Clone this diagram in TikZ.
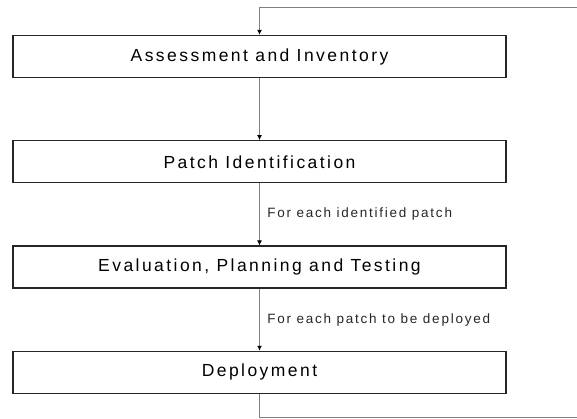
\documentclass[tikz,border=0pt]{standalone}
\usepackage{fontspec}
\setmainfont{Liberation Sans}
\newfontfamily\stagefont[LetterSpace=14]{Liberation Sans}
\newfontfamily\notefont[LetterSpace=13]{Liberation Sans}
\usetikzlibrary{arrows.meta}
\usetikzlibrary{positioning}

\begin{document}
\begin{tikzpicture}[
  x=1pt,y=1pt,
  node distance=62pt,
  stage/.style={draw=black!85,line width=1.3pt,minimum width=493pt,minimum height=42pt,
    inner sep=0pt,font=\stagefont\fontsize{17.5}{20}\selectfont},
  to/.style={-{Latex[length=5pt,width=5pt,black]},draw=black!50,line width=1pt},
  note/.style={right,xshift=4pt,font=\notefont\fontsize{13.5}{16}\selectfont,text=black!85}]

  \useasboundingbox (0,0) rectangle (577,-419);

  % Stages stacked top to bottom
  \node[stage] (assess) at (259.5,-56.5) {Assessment and Inventory};
  \node[stage,below=of assess] (ident) {Patch Identification};
  \node[stage,below=of ident] (eval) {Evaluation, Planning and Testing};
  \node[stage,below=of eval] (deploy) {Deployment};

  % Return loop leaves the picture on the right
  \coordinate (loopin) at (577,-8);
  \coordinate (loopout) at (577,-417);

  % Draw the arrows between the stages
  \draw[to] (assess) -- (ident);
  \draw[to] (ident) -- node[note] {For each identified patch} (eval);
  \draw[to] (eval) -- node[note] {For each patch to be deployed} (deploy);
  \draw[draw=black!50,line width=1pt] (deploy) |- (loopout);
  \draw[to] (loopin) -| (assess);
\end{tikzpicture}
\end{document}
